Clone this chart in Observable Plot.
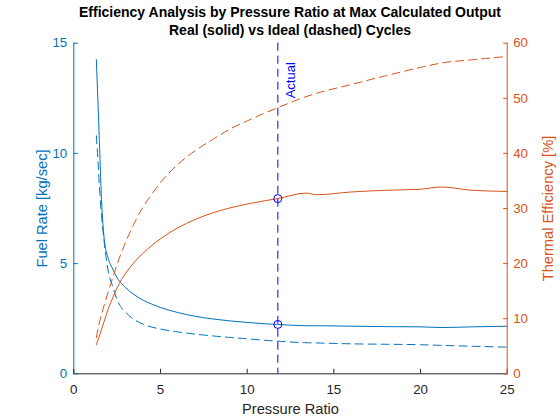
<!DOCTYPE html>
<html><head><meta charset="utf-8">
<script src="https://cdn.jsdelivr.net/npm/d3@7"></script>
<script src="https://cdn.jsdelivr.net/npm/@observablehq/plot@0.6"></script>
<style>
body{margin:0;background:#fff;}
#wrap{position:relative;width:560px;height:420px;font-family:Helvetica, Arial, "Liberation Sans", sans-serif;background:#fff;}
#title{position:absolute;left:0;top:3px;width:560px;text-align:center;padding-left:20px;box-sizing:border-box;font-weight:bold;font-size:14px;line-height:18px;color:#000;}
#chart{position:absolute;left:0;top:38px;width:560px;height:382px;}
#chart svg{position:absolute;left:0;top:0;}
</style></head><body>
<div id="wrap"><div id="title"></div><div id="chart"></div></div>
<script>
const titleLines = ["Efficiency Analysis by Pressure Ratio at Max Calculated Output", "Real (solid) vs Ideal (dashed) Cycles"];
const xLabel = "Pressure Ratio";
const fuelLabel = "Fuel Rate [kg/sec]";
const effLabel = "Thermal Efficiency [%]";
const actualLabel = "Actual";

const pressureRatio = [1.3, 1.4, 1.5, 1.6, 1.75, 2.0, 2.25, 2.5, 2.75, 3.0, 3.5, 4.0, 4.5, 5.0, 6.0, 7.0, 8.0, 9.0, 10.0, 11.0, 11.77, 13.4, 14.0, 16.0, 18.0, 20.0, 21.2, 23.0, 25.0];
const fuelReal  = [14.25, 12.2, 10.0, 7.9, 6.15, 5.2, 4.75, 4.35, 4.1, 3.9, 3.58, 3.34, 3.16, 3.01, 2.78, 2.61, 2.49, 2.40, 2.33, 2.27, 2.24, 2.18, 2.18, 2.16, 2.14, 2.13, 2.10, 2.13, 2.16];
const fuelIdeal = [10.8, 9.6, 8.2, 7.2, 6.0, 4.6, 3.95, 3.35, 3.0, 2.78, 2.45, 2.25, 2.12, 2.03, 1.90, 1.80, 1.72, 1.65, 1.59, 1.52, 1.48, 1.41, 1.40, 1.36, 1.34, 1.32, 1.29, 1.25, 1.21];
const effReal  = [5.3, 6.2, 7.1, 8.1, 9.5, 11.9, 13.8, 15.6, 17.1, 18.3, 20.3, 21.9, 23.3, 24.5, 26.5, 28.0, 29.2, 30.1, 30.8, 31.4, 31.8, 32.8, 32.5, 33.0, 33.3, 33.5, 33.9, 33.3, 33.1];
const effIdeal = [6.6, 8.2, 9.6, 10.8, 12.4, 15.0, 17.5, 19.9, 22.0, 24.0, 27.4, 30.3, 32.6, 34.7, 38.0, 40.5, 42.5, 44.4, 45.9, 47.3, 48.3, 50.3, 50.9, 52.5, 54.1, 55.6, 56.4, 57.0, 57.6];

const actualPR = 11.77;
const actualFuel = 2.24;
const actualEff = 31.8;

const xTicks = [0, 5, 10, 15, 20, 25];
const fuelTicks = [0, 5, 10, 15];
const effTicks = [0, 10, 20, 30, 40, 50, 60];

const rows = pressureRatio.map((p, i) => ({pr: p, fuelReal: fuelReal[i], fuelIdeal: fuelIdeal[i], effReal: effReal[i], effIdeal: effIdeal[i]}));
const actual = [{pr: actualPR, fuel: actualFuel, eff: actualEff, label: actualLabel}];

document.getElementById("title").innerHTML = titleLines.join("<br>");

const BLUE = "#0072BD", ORANGE = "#D95319", DARK = "#262626", MARK = "#0000FF";
const FONT = "Helvetica, Arial, 'Liberation Sans', sans-serif";
const DASH = "8,5";
const CURVE = "monotone-x";
const common = {
  width: 560, height: 382,
  marginLeft: 73.3, marginRight: 53.3, marginTop: 4.7, marginBottom: 46.7,
  style: {fontFamily: FONT, fontSize: "13.3px", background: "transparent", overflow: "visible"}
};

const left = Plot.plot({
  ...common,
  x: {domain: [0, 25]},
  y: {domain: [0, 15]},
  marks: [
    Plot.frame({anchor: "bottom", stroke: DARK}),
    Plot.frame({anchor: "left", stroke: BLUE}),
    Plot.axisX({ticks: xTicks, tickSize: -4.5, tickPadding: 15, color: DARK, fontSize: 13.3, label: null}),
    Plot.axisY({ticks: fuelTicks, anchor: "left", tickSize: -4.5, tickPadding: 11.1, color: BLUE, fontSize: 13.3, label: null}),
    Plot.line(rows, {x: "pr", y: "fuelReal", stroke: BLUE, strokeWidth: 1, curve: CURVE}),
    Plot.line(rows, {x: "pr", y: "fuelIdeal", stroke: BLUE, strokeWidth: 1, strokeDasharray: DASH, curve: CURVE}),
    Plot.dot(actual, {x: "pr", y: "fuel", r: 4, stroke: MARK, fill: "none", strokeWidth: 1}),
    Plot.text([fuelLabel], {frameAnchor: "left", textAnchor: "middle", lineAnchor: "middle", rotate: -90, dx: -31.3, fill: BLUE, fontSize: 14.67}),
    Plot.text([xLabel], {frameAnchor: "bottom", textAnchor: "middle", lineAnchor: "middle", dy: 35.5, fill: DARK, fontSize: 14.67})
  ]
});

const right = Plot.plot({
  ...common,
  x: {domain: [0, 25], axis: null},
  y: {domain: [0, 60]},
  marks: [
    Plot.frame({anchor: "right", stroke: ORANGE}),
    Plot.axisY({ticks: effTicks, anchor: "right", tickSize: -4.5, tickPadding: 10.5, color: ORANGE, fontSize: 13.3, label: null}),
    Plot.line(rows, {x: "pr", y: "effReal", stroke: ORANGE, strokeWidth: 1, curve: CURVE}),
    Plot.line(rows, {x: "pr", y: "effIdeal", stroke: ORANGE, strokeWidth: 1, strokeDasharray: DASH, curve: CURVE}),
    Plot.ruleX(actual, {x: "pr", stroke: MARK, strokeWidth: 1, strokeDasharray: DASH}),
    Plot.dot(actual, {x: "pr", y: "eff", r: 4, stroke: MARK, fill: "none", strokeWidth: 1}),
    Plot.text(actual, {x: "pr", frameAnchor: "top", text: "label", rotate: -90, textAnchor: "end", lineAnchor: "middle", dx: 12.7, dy: 19, fill: MARK, fontSize: 13}),
    Plot.text([effLabel], {frameAnchor: "right", textAnchor: "middle", lineAnchor: "middle", rotate: -90, dx: 41.3, fill: ORANGE, fontSize: 14.67})
  ]
});

const chart = document.getElementById("chart");
chart.appendChild(left);
chart.appendChild(right);
</script>
</body></html>
